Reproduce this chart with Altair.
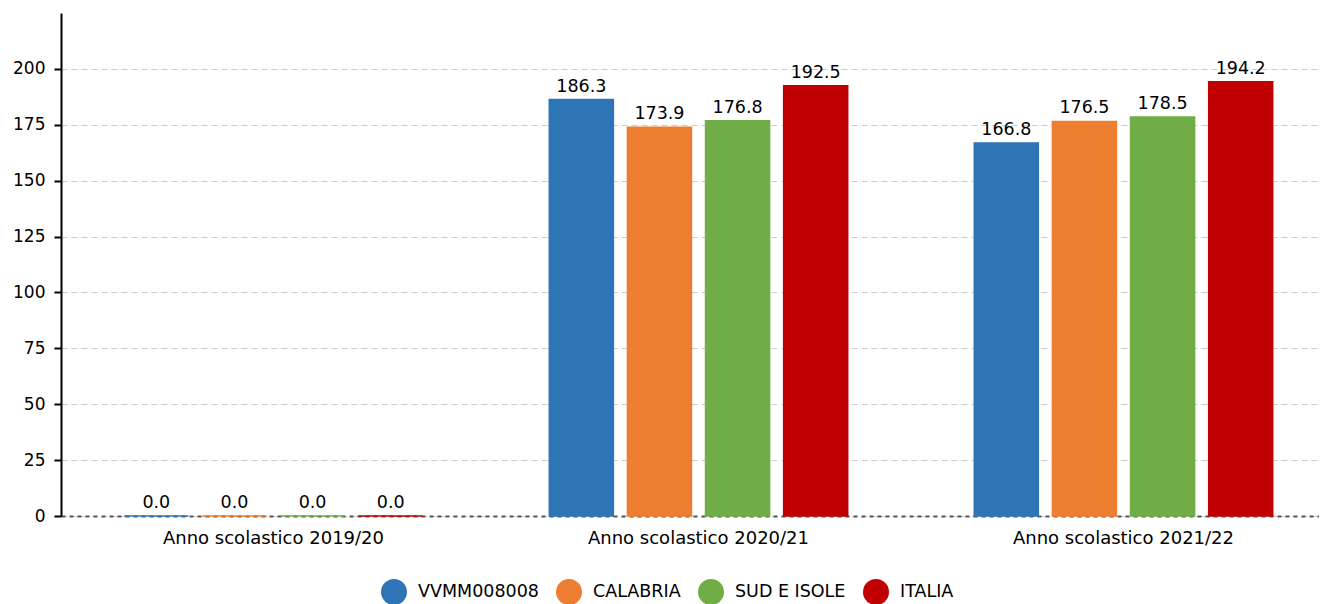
import altair as alt
import pandas as pd

anni = ["Anno scolastico 2019/20", "Anno scolastico 2020/21", "Anno scolastico 2021/22"]
serie = ["VVMM008008", "CALABRIA", "SUD E ISOLE", "ITALIA"]
colori = ["#2E75B6", "#ED7D31", "#70AD47", "#C00000"]
vvmm = [0.0, 186.3, 166.8]
calabria = [0.0, 173.9, 176.5]
sud = [0.0, 176.8, 178.5]
italia = [0.0, 192.5, 194.2]
y_ticks = [0, 25, 50, 75, 100, 125, 150, 175, 200]

rows = []
for s, vals in zip(serie, [vvmm, calabria, sud, italia]):
    for a, v in zip(anni, vals):
        rows.append({"anno": a, "serie": s, "valore": v, "etichetta": f"{v:.1f}"})
df = pd.DataFrame(rows)

FONT = "DejaVu Sans"
color_scale = alt.Scale(domain=serie, range=colori)

x = alt.X("anno:N", sort=anni, title=None,
          scale=alt.Scale(range=[0, 1275], paddingInner=0, paddingOuter=0),
          axis=alt.Axis(labelAngle=0, labelFontSize=18, labelFont=FONT, labelColor="#000",
                        ticks=False, labelPadding=13, labelLimit=0, domainColor="#555",
                        domainWidth=2, domainDash=[4, 4], grid=False))
xo = alt.XOffset("serie:N", sort=serie,
                 scale=alt.Scale(paddingInner=0.18, paddingOuter=0.81))
y = alt.Y("valore:Q", title=None,
          scale=alt.Scale(domain=[0, 225], nice=False),
          axis=alt.Axis(values=y_ticks, labelFontSize=17, labelFont=FONT, labelColor="#000",
                        domainColor="#000", domainWidth=2, tickColor="#000", tickWidth=2,
                        tickSize=7, labelPadding=9, gridColor="#cccccc", gridDash=[6, 4],
                        gridWidth=1))

bars = alt.Chart(df).mark_bar(strokeWidth=1.5).encode(
    x=x, xOffset=xo, y=y,
    color=alt.Color("serie:N", sort=serie, scale=color_scale, title=None,
                    legend=alt.Legend(orient="none", legendX=320, legendY=566,
                                      direction="horizontal", symbolType="circle",
                                      symbolSize=676, symbolStrokeWidth=0,
                                      labelFontSize=17.5, labelFont=FONT, labelColor="#000",
                                      labelOffset=11, columnPadding=17, labelLimit=300)),
    stroke=alt.Stroke("serie:N", sort=serie, scale=color_scale, legend=None),
)

labels = alt.Chart(df).mark_text(dy=-8, fontSize=17.5, font=FONT, color="#000",
                                 baseline="alphabetic").encode(
    x=x, xOffset=xo, y=y, text="etichetta:N"
)

chart = (bars + labels).properties(
    width=1258, height=503,
    autosize=alt.AutoSizeParams(type="none"),
    padding={"left": 53, "top": 5, "right": 0, "bottom": 90},
).configure_view(stroke=None).configure_axis(labelFont=FONT)

chart.save("out.html", embed_options={"renderer": "svg", "actions": False})
